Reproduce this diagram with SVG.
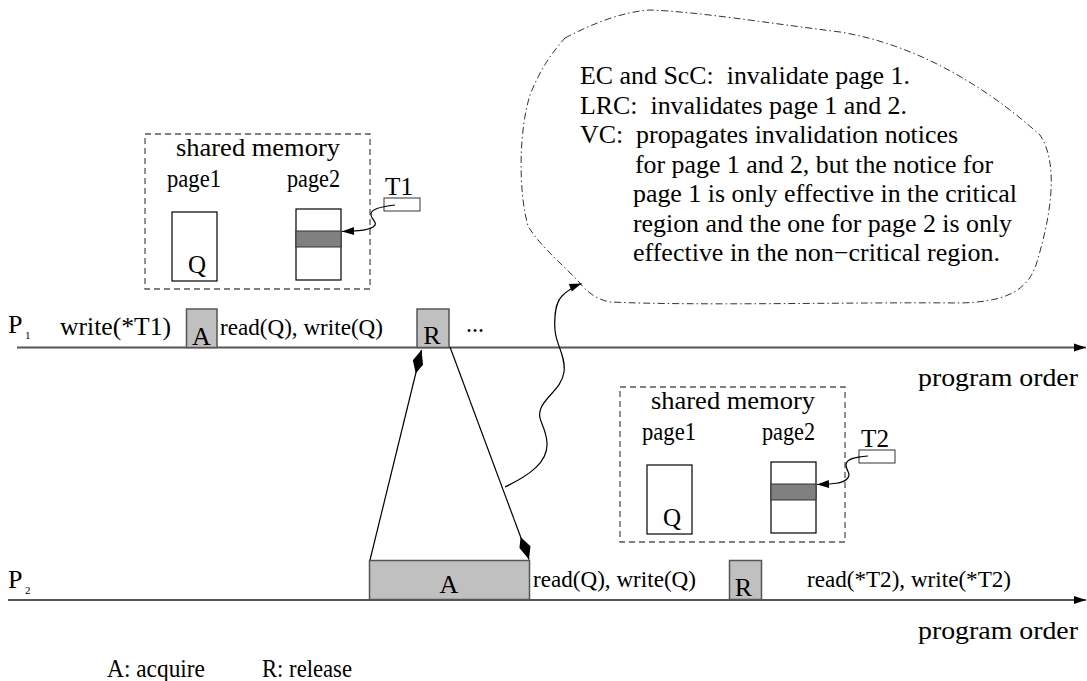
<svg xmlns="http://www.w3.org/2000/svg" width="1087" height="681" viewBox="0 0 1087 681">
  <style>
    text { font-family: "Liberation Serif", "Times New Roman", serif; fill: #000; }
    .t24 { font-size: 25px; }
    .t22 { font-size: 23px; }
    .lbl { font-size: 26px; }
    .sub { font-size: 11px; }
    .timeline { stroke: #555; stroke-width: 1.8; fill: none; }
    .sync { fill: #c0c0c0; stroke: #555; stroke-width: 1.5; }
    .mem { fill: none; stroke: #555; stroke-width: 1.3; stroke-dasharray: 6 4; }
    .page { fill: #fff; stroke: #000; stroke-width: 1.2; }
    .band { fill: #808080; stroke: #333; stroke-width: 1; }
    .ptr { fill: #fff; stroke: #333; stroke-width: 1; }
    .wire { fill: none; stroke: #000; stroke-width: 1.2; }
    .cloud { fill: none; stroke: #333; stroke-width: 1; stroke-dasharray: 7 3 1.5 3; }
  </style>
  <defs>
    <marker id="lineHead" markerUnits="userSpaceOnUse" markerWidth="14" markerHeight="10" viewBox="-12 -5 14 10" refX="0" refY="0" orient="auto">
      <path d="M0,0 L-12,-4 L-12,4 Z" fill="#000"/>
    </marker>
    <marker id="kite" markerUnits="userSpaceOnUse" markerWidth="28" markerHeight="16" viewBox="-26 -8 28 16" refX="0" refY="0" orient="auto">
      <path d="M0,0 L-12,-6 L-24,0 L-14,5 Z" fill="#000"/>
    </marker>
    <marker id="smallHead" markerUnits="userSpaceOnUse" markerWidth="14" markerHeight="10" viewBox="-13 -5 14 10" refX="0" refY="0" orient="auto">
      <path d="M0,0 L-12,-4 L-12,4 Z" fill="#000"/>
    </marker>
  </defs>

  <!-- process timelines -->
  <g id="timeline-p1">
    <line class="timeline" x1="17" y1="347.5" x2="1086" y2="347.5" marker-end="url(#lineHead)"/>
    <text class="lbl" x="8" y="333">P</text>
    <text class="sub" x="25" y="339">1</text>
    <text class="t24" x="60" y="335" textLength="111" lengthAdjust="spacingAndGlyphs">write(*T1)</text>
    <text class="t22" x="220" y="335" textLength="163" lengthAdjust="spacingAndGlyphs">read(Q), write(Q)</text>
    <text class="t24" x="466" y="332" textLength="18" lengthAdjust="spacingAndGlyphs">...</text>
    <text class="t24" x="918" y="386" textLength="160" lengthAdjust="spacingAndGlyphs">program order</text>
  </g>
  <g id="timeline-p2">
    <line class="timeline" x1="8" y1="600" x2="1086" y2="600" marker-end="url(#lineHead)"/>
    <text class="lbl" x="8" y="588">P</text>
    <text class="sub" x="25" y="594">2</text>
    <text class="t22" x="533" y="587" textLength="163" lengthAdjust="spacingAndGlyphs">read(Q), write(Q)</text>
    <text class="t22" x="807" y="587" textLength="204" lengthAdjust="spacingAndGlyphs">read(*T2), write(*T2)</text>
    <text class="t24" x="918" y="639" textLength="160" lengthAdjust="spacingAndGlyphs">program order</text>
  </g>

  <!-- acquire / release markers -->
  <g id="p1-acquire">
    <rect class="sync" x="186.5" y="309" width="30.5" height="38.5"/>
    <text class="lbl" x="201.5" y="345" text-anchor="middle">A</text>
  </g>
  <g id="p1-release">
    <rect class="sync" x="417" y="309" width="32" height="38.5"/>
    <text class="lbl" x="432" y="344" text-anchor="middle">R</text>
  </g>
  <g id="p2-acquire">
    <rect class="sync" x="369.5" y="560.5" width="160" height="39"/>
    <text class="lbl" x="449" y="593" text-anchor="middle">A</text>
  </g>
  <g id="p2-release">
    <rect class="sync" x="729.5" y="560.5" width="32" height="39"/>
    <text class="lbl" x="743.5" y="596" text-anchor="middle">R</text>
  </g>

  <!-- shared memory seen by P1 -->
  <g id="memory-p1">
    <rect class="mem" x="145" y="134" width="225" height="155"/>
    <text class="t24" x="258" y="156" text-anchor="middle" textLength="164" lengthAdjust="spacingAndGlyphs">shared memory</text>
    <text class="t24" x="167" y="187" textLength="54" lengthAdjust="spacingAndGlyphs">page1</text>
    <text class="t24" x="287" y="187" textLength="53" lengthAdjust="spacingAndGlyphs">page2</text>
    <rect class="page" x="172" y="212" width="45" height="69"/>
    <text class="t24" x="197" y="273" text-anchor="middle">Q</text>
    <rect class="page" x="296" y="209" width="45" height="71"/>
    <rect class="band" x="296" y="231" width="45" height="16"/>
    <text class="t24" x="385" y="195" textLength="28" lengthAdjust="spacingAndGlyphs">T1</text>
    <rect class="ptr" x="384" y="198" width="36" height="13"/>
  </g>

  <!-- shared memory seen by P2 -->
  <g id="memory-p2">
    <rect class="mem" x="620" y="387" width="225" height="155"/>
    <text class="t24" x="733" y="409" text-anchor="middle" textLength="164" lengthAdjust="spacingAndGlyphs">shared memory</text>
    <text class="t24" x="642" y="440" textLength="54" lengthAdjust="spacingAndGlyphs">page1</text>
    <text class="t24" x="762" y="440" textLength="53" lengthAdjust="spacingAndGlyphs">page2</text>
    <rect class="page" x="647" y="465" width="45" height="69"/>
    <text class="t24" x="672" y="526" text-anchor="middle">Q</text>
    <rect class="page" x="771" y="462" width="45" height="71"/>
    <rect class="band" x="771" y="484" width="45" height="16"/>
    <text class="t24" x="861" y="447" textLength="28" lengthAdjust="spacingAndGlyphs">T2</text>
    <rect class="ptr" x="859" y="450" width="36" height="13"/>
  </g>

  <!-- consistency notes -->
  <g id="notes">
    <path class="cloud" d="M565,38 C590,25 620,12 650,10 C700,12 760,22 840,32 C920,45 990,90 1040,135 C1060,165 1050,220 1036,265 C1026,294 1000,302 960,303 C850,302 700,306 610,302 C595,299 586,291 578,281 C560,262 540,246 528,226 C518,190 519,130 530,95 C540,70 550,55 565,38 Z"/>
    <g class="t24">
      <text xml:space="preserve" x="580" y="84" textLength="330" lengthAdjust="spacingAndGlyphs">EC and ScC:  invalidate page 1.</text>
      <text xml:space="preserve" x="580" y="113.5" textLength="327" lengthAdjust="spacingAndGlyphs">LRC:  invalidates page 1 and 2.</text>
      <text xml:space="preserve" x="580" y="143" textLength="378" lengthAdjust="spacingAndGlyphs">VC:  propagates invalidation notices</text>
      <text x="635" y="172.5" textLength="358" lengthAdjust="spacingAndGlyphs">for page 1 and 2, but the notice for</text>
      <text x="633" y="202" textLength="384" lengthAdjust="spacingAndGlyphs">page 1 is only effective in the critical</text>
      <text x="633" y="231.5" textLength="379" lengthAdjust="spacingAndGlyphs">region and the one for page 2 is only</text>
      <text x="633" y="261" textLength="367" lengthAdjust="spacingAndGlyphs">effective in the non−critical region.</text>
    </g>
  </g>

  <!-- legend -->
  <g id="legend">
    <text class="t24" x="107" y="677" textLength="98" lengthAdjust="spacingAndGlyphs">A: acquire</text>
    <text class="t24" x="262" y="677" textLength="90" lengthAdjust="spacingAndGlyphs">R: release</text>
  </g>

  <!-- connectors -->
  <g id="connectors">
    <line class="wire" x1="370" y1="560" x2="421.5" y2="350" marker-end="url(#kite)"/>
    <line class="wire" x1="450" y1="347" x2="529" y2="559.5" marker-end="url(#kite)"/>
    <path class="wire" d="M505,487 C530,475 548,462 547,443 C546,425 536,420 541,408 C546,396 562,388 564,372 C566,356 556,345 555,330 C554,316 556,302 562,296 C568,290 575,286 581.5,283.5" marker-end="url(#smallHead)"/>
    <path class="wire" d="M395,205 C380,207 370,209 371,215 C372,221 379,223 373,227 C366,231 355,231 342,231.5" marker-end="url(#smallHead)"/>
    <path class="wire" d="M868,456 C855,457 846,459 846,465 C846,471 852,474 847,479 C842,484 830,484 817,484.5" marker-end="url(#smallHead)"/>
  </g>
</svg>
